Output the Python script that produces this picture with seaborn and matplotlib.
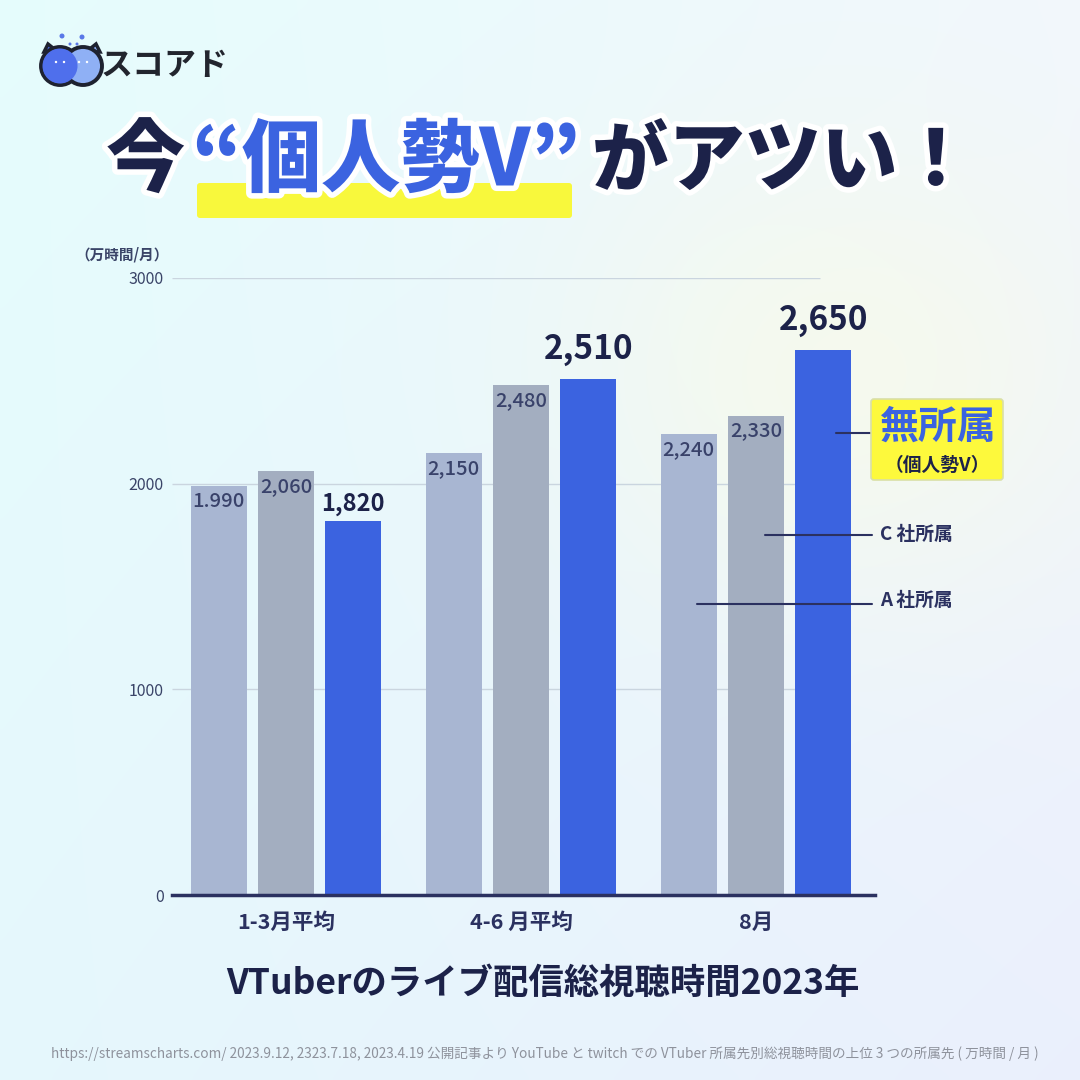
import matplotlib.pyplot as plt
import matplotlib.patheffects as pe
from matplotlib.patches import Circle, FancyBboxPatch, Polygon
import pandas as pd
import seaborn as sns
import numpy as np

# data
periods = ["1-3月平均", "4-6 月平均", "8月"]
groups = ["A 社所属", "C 社所属", "無所属"]
a_vals = [1990, 2150, 2240]
c_vals = [2060, 2480, 2330]
ind_vals = [1820, 2510, 2650]
a_labels = ["1.990", "2,150", "2,240"]
c_labels = ["2,060", "2,480", "2,330"]
ind_labels = ["1,820", "2,510", "2,650"]
y_ticks = [0, 1000, 2000, 3000]

NAVY = "#1c2249"
AXNAVY = "#2b3160"
BLUE = "#3b63e0"
colors = ["#a8b6d2", "#a3aec0", BLUE]

df = pd.DataFrame({
    "period": periods * 3,
    "group": [groups[0]] * 3 + [groups[1]] * 3 + [groups[2]] * 3,
    "value": a_vals + c_vals + ind_vals,
})

sns.set_theme(style="white")
plt.rcParams['font.family'] = ['Noto Sans CJK JP', 'DejaVu Sans']

fig = plt.figure(figsize=(10.8, 10.8), dpi=100)

# background gradient
bg = fig.add_axes([0, 0, 1, 1], zorder=-2)
h, w = 200, 200
yy, xx = np.mgrid[0:1:h*1j, 0:1:w*1j]
tl = np.array([0.90, 0.99, 0.99])
tr = np.array([0.95, 0.97, 0.99])
bl = np.array([0.90, 0.97, 0.99])
br = np.array([0.92, 0.94, 0.99])
img = (tl * ((1-xx)*(1-yy))[..., None] + tr * (xx*(1-yy))[..., None]
       + bl * ((1-xx)*yy)[..., None] + br * (xx*yy)[..., None])
blob = np.exp(-(((xx-0.78)/0.25)**2 + ((yy-0.35)/0.22)**2))[..., None]
img = img*(1-0.7*blob) + np.array([0.975, 0.985, 0.91])*0.7*blob
bg.imshow(np.clip(img, 0, 1), aspect='auto', extent=[0, 1, 0, 1], interpolation='bicubic')
bg.set_axis_off()

# chart
ax = fig.add_axes([172/1080, 1-895/1080, 703/1080, 617/1080])
ax.patch.set_alpha(0)
sns.barplot(data=df, x="period", y="value", hue="group", palette=colors,
            width=0.86, gap=0.17, saturation=1, linewidth=0, legend=False,
            ax=ax, zorder=2)
ax.set_ylim(0, 3000)
ax.set_xlim(-0.485, 2.506)
ax.set_xlabel("")
ax.set_ylabel("")
ax.set_yticks(y_ticks)
ax.set_yticklabels([str(t) for t in y_ticks], fontsize=11.5, color="#3a4468")
ax.tick_params(axis='y', length=0, pad=6)
ax.tick_params(axis='x', length=0, pad=12)
for lab in ax.get_xticklabels():
    lab.set_fontsize(15.5)
    lab.set_fontweight('bold')
    lab.set_color(AXNAVY)
for s in ["top", "right", "left"]:
    ax.spines[s].set_visible(False)
ax.spines["bottom"].set_color(AXNAVY)
ax.spines["bottom"].set_linewidth(2.5)
ax.spines["bottom"].set_zorder(5)
ax.hlines([1000, 2000, 3000], -0.485, 2.27, color="#cad5df", lw=1, zorder=1)

# value labels
label_sets = [a_labels, c_labels, ind_labels]
for gi, cont in enumerate(ax.containers):
    for bi, bar in enumerate(cont):
        cx = bar.get_x() + bar.get_width()/2
        top = bar.get_height()
        txt = label_sets[gi][bi]
        if gi < 2:
            ax.annotate(txt, (cx, top), xytext=(0, -11), textcoords='offset points',
                        ha='center', va='center', fontsize=14.5, fontweight='medium',
                        color="#39426a", zorder=4)
        else:
            big = bi > 0
            ax.annotate(txt, (cx, top), xytext=(0, 21 if big else 12),
                        textcoords='offset points', ha='center', va='center',
                        fontsize=24 if big else 17, fontweight='bold',
                        color=NAVY, zorder=4, annotation_clip=False)

# leader lines
ax.plot([1.749, 2.494], [1415, 1415], color=AXNAVY, lw=1.5, zorder=6, clip_on=False)
ax.plot([2.038, 2.494], [1750, 1750], color=AXNAVY, lw=1.5, zorder=6, clip_on=False)
ax.plot([2.34, 2.494], [2246, 2246], color=AXNAVY, lw=1.5, zorder=6, clip_on=False)

# overlay in pixel coordinates
ov = fig.add_axes([0, 0, 1, 1], zorder=3)
ov.set_xlim(0, 1080)
ov.set_ylim(1080, 0)
ov.set_axis_off()
ov.patch.set_alpha(0)

ov.text(880, 534, "C 社所属", fontsize=13.5, fontweight='bold', color=AXNAVY, va='center')
ov.text(880, 600, "A 社所属", fontsize=13.5, fontweight='bold', color=AXNAVY, va='center')
ov.add_patch(FancyBboxPatch((871, 399), 132, 81, boxstyle="round,pad=0,rounding_size=3",
                            fc="#fdf93c", ec="#d9dfa6", lw=1.2))
ov.text(938, 427, "無所属", fontsize=28, fontweight='bold', color=BLUE, ha='center', va='center')
ov.text(937, 465, "（個人勢V）", fontsize=13.5, fontweight='bold', color=NAVY, ha='center', va='center')

ov.text(122, 254, "（万時間/月）", fontsize=10.5, fontweight='bold', color="#3a4468",
        ha='center', va='center')

# title
stroke = [pe.withStroke(linewidth=8, foreground="white")]
ov.add_patch(FancyBboxPatch((197, 183), 375, 35, boxstyle="round,pad=0,rounding_size=3",
                            fc="#f8f83c", ec="none"))
ov.text(106, 162, "今", fontsize=57, fontweight='heavy', color=NAVY, va='center',
        path_effects=stroke)
ov.text(192, 162, "“個人勢V”", fontsize=57, fontweight='heavy', color=BLUE, va='center',
        path_effects=stroke)
ov.text(592, 162, "がアツい！", fontsize=55, fontweight='heavy', color=NAVY, va='center',
        path_effects=stroke)

# subtitle and footer
ov.text(543, 983, "VTuberのライブ配信総視聴時間2023年", fontsize=25.5, fontweight='bold',
        color=NAVY, ha='center', va='center')
ov.text(545, 1054, "https://streamscharts.com/ 2023.9.12, 2323.7.18, 2023.4.19 公開記事より YouTube と twitch での VTuber 所属先別総視聴時間の上位 3 つの所属先 ( 万時間 / 月 )",
        fontsize=9.8, color="#8e929c", ha='center', va='center')

# logo
for (x, y) in [(62, 36), (70, 44), (77, 44), (82, 37)]:
    ov.add_patch(Circle((x, y), 2.5 if x in (62, 82) else 1.5, fc="#5a78e8", ec="none"))
ov.add_patch(Polygon([[44, 52], [48, 44], [58, 52]], closed=True, fc="#4f6fec", ec="#1e2230", lw=2.5))
ov.add_patch(Polygon([[86, 52], [96, 44], [100, 52]], closed=True, fc="#8fb0f5", ec="#1e2230", lw=2.5))
ov.add_patch(Circle((60, 66), 19, fc="#4f6fec", ec="#1e2230", lw=2.8))
ov.add_patch(Circle((83, 66), 19, fc="#8fb0f5", ec="#1e2230", lw=2.8))
ov.add_patch(Circle((60, 66), 17.5, fc="#4f6fec", ec="none"))
for (x, y) in [(56, 62), (64, 62), (79, 62), (87, 62)]:
    ov.add_patch(Circle((x, y), 1.2, fc="white", ec="none"))
ov.text(101, 66, "スコアド", fontsize=23, fontweight='bold', color="#22252e", va='center')

fig.savefig("out.png", dpi=100)
